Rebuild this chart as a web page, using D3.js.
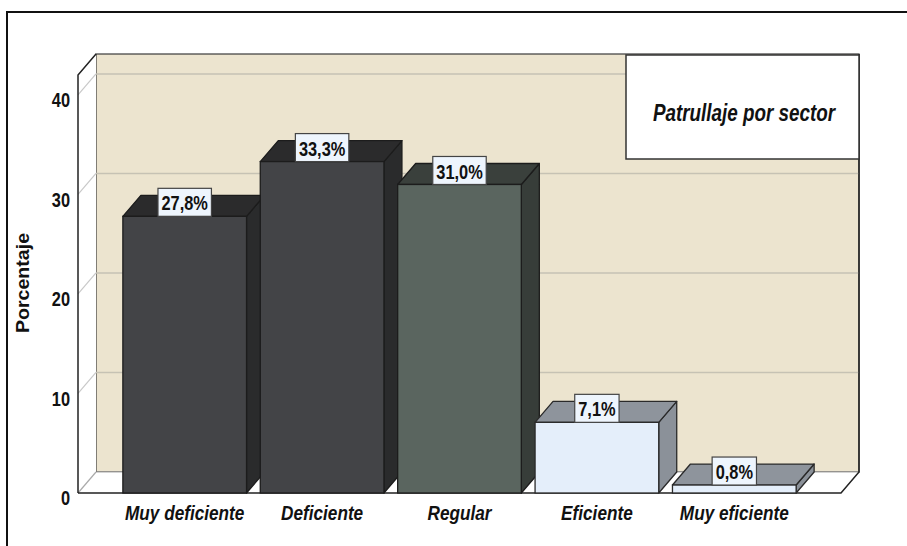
<!DOCTYPE html>
<html>
<head>
<meta charset="utf-8">
<script src="https://cdn.jsdelivr.net/npm/d3@7"></script>
<style>
  html, body { margin: 0; padding: 0; background: #fff; }
  svg { display: block; }
  text { font-family: Arial, "Liberation Sans", Helvetica, sans-serif; }
</style>
</head>
<body>
<svg id="chart" width="907" height="546"></svg>
<script>
// ---- data ----
const categories = ["Muy deficiente", "Deficiente", "Regular", "Eficiente", "Muy eficiente"];
const values = [27.8, 33.3, 31.0, 7.1, 0.8];
const valueLabels = ["27,8%", "33,3%", "31,0%", "7,1%", "0,8%"];
const yTicks = [0, 10, 20, 30, 40];
const yTitle = "Porcentaje";
const legendTitle = "Patrullaje por sector";

// ---- styles ----
const barStyles = [
  { front: "#434447", top: "#2b2b2c", side: "#2a2b2c", stroke: "#1c1c1c" },
  { front: "#434447", top: "#2b2b2c", side: "#2a2b2c", stroke: "#1c1c1c" },
  { front: "#5a655f", top: "#3a403c", side: "#373d39", stroke: "#1c1c1c" },
  { front: "#e4eefa", top: "#8e949c", side: "#8b9199", stroke: "#2a2a2a" },
  { front: "#e4eefa", top: "#8e949c", side: "#8b9199", stroke: "#2a2a2a" }
];
const SX = 0.82; // horizontal text compression

const svg = d3.select("#chart");
const DX = 18, DY = 21;          // depth offsets
const backLeft = 96, backRight = 859;

// back wall scale
const y = d3.scaleLinear().domain([0, 42]).range([472, 54]);
const yf = v => y(v) + DY;        // front plane
const x = d3.scaleBand().domain(categories).range([116, 803])
  .paddingInner(0.1).paddingOuter(0.05);

// outer frame
svg.append("path").attr("d", "M7,546 L7,12 L907,12")
  .attr("fill", "none").attr("stroke", "#111").attr("stroke-width", 2);

// back wall
svg.append("rect").attr("x", backLeft).attr("y", y(42))
  .attr("width", backRight - backLeft).attr("height", y(0) - y(42))
  .attr("fill", "#ece4cf").attr("stroke", "#3a3a3a").attr("stroke-width", 1.2);

// side wall
svg.append("path")
  .attr("d", `M${backLeft - DX},${yf(42)} L${backLeft},${y(42)} L${backLeft},${y(0)} L${backLeft - DX},${yf(0)} Z`)
  .attr("fill", "#fff").attr("stroke", "none");
// floor
svg.append("path")
  .attr("d", `M${backLeft - DX},${yf(0)} L${backLeft},${y(0)} L${backRight},${y(0)} L${backRight - DX},${yf(0)} Z`)
  .attr("fill", "#fff").attr("stroke", "none");

// gridlines
const gt = yTicks.filter(t => t > 0);
svg.append("g").selectAll("line.gb").data(gt).join("line")
  .attr("x1", backLeft).attr("x2", backRight)
  .attr("y1", d => y(d)).attr("y2", d => y(d))
  .attr("stroke", "#c6c2b4").attr("stroke-width", 1.5);
svg.append("g").selectAll("line.gs").data(gt).join("line")
  .attr("x1", backLeft - DX).attr("x2", backLeft)
  .attr("y1", d => yf(d)).attr("y2", d => y(d))
  .attr("stroke", "#c8c8c8").attr("stroke-width", 1.2);
// floor back edge & left diagonal
svg.append("line").attr("x1", backLeft).attr("x2", backRight)
  .attr("y1", y(0)).attr("y2", y(0)).attr("stroke", "#aaa").attr("stroke-width", 1.2);
svg.append("line").attr("x1", backLeft - DX).attr("x2", backLeft)
  .attr("y1", yf(0)).attr("y2", y(0)).attr("stroke", "#aaa").attr("stroke-width", 1.2);

// wall outlines (dark)
svg.append("path")
  .attr("d", `M${backLeft - DX},${yf(0)} L${backLeft - DX},${yf(42)} L${backLeft},${y(42)}`)
  .attr("fill", "none").attr("stroke", "#222").attr("stroke-width", 1.5);
svg.append("path")
  .attr("d", `M${backLeft - DX},${yf(0)} L${backRight - DX},${yf(0)} L${backRight},${y(0)} L${backRight},${y(42)}`)
  .attr("fill", "none").attr("stroke", "#222").attr("stroke-width", 1.5);

// y tick labels
svg.append("g").selectAll("text").data(yTicks).join("text")
  .attr("transform", d => `translate(70,${yf(d) + 5}) scale(${SX},1)`)
  .attr("text-anchor", "end").attr("dominant-baseline", "central")
  .attr("font-size", 20).attr("font-weight", "bold").attr("fill", "#111")
  .text(d => d);

// y title
svg.append("text")
  .attr("transform", `translate(29,283) rotate(-90) scale(0.98,0.95)`)
  .attr("text-anchor", "middle")
  .attr("font-size", 20).attr("font-weight", "bold").attr("fill", "#111")
  .text(yTitle);

// bars
const data = categories.map((c, i) => ({ c, v: values[i], lab: valueLabels[i], s: barStyles[i] }));
const gBars = svg.append("g");
data.forEach(d => {
  const x0 = x(d.c), x1 = x0 + x.bandwidth();
  const yt = yf(d.v), yb = yf(0);
  const g = gBars.append("g");
  g.append("path")
    .attr("d", `M${x1},${yt} L${x1 + DX},${yt - DY} L${x1 + DX},${yb - DY} L${x1},${yb} Z`)
    .attr("fill", d.s.side).attr("stroke", d.s.stroke).attr("stroke-width", 1.3).attr("stroke-linejoin", "round");
  g.append("path")
    .attr("d", `M${x0},${yt} L${x0 + DX},${yt - DY} L${x1 + DX},${yt - DY} L${x1},${yt} Z`)
    .attr("fill", d.s.top).attr("stroke", d.s.stroke).attr("stroke-width", 1.3).attr("stroke-linejoin", "round");
  g.append("rect").attr("x", x0).attr("y", yt).attr("width", x1 - x0).attr("height", yb - yt)
    .attr("fill", d.s.front).attr("stroke", d.s.stroke).attr("stroke-width", 1.3);
});

// value labels
const gLab = svg.append("g");
data.forEach(d => {
  const cx = x(d.c) + x.bandwidth() / 2;
  const yt = yf(d.v);
  const t = gLab.append("text")
    .attr("transform", `translate(${cx},${yt - 13}) scale(${SX},1)`)
    .attr("text-anchor", "middle").attr("dominant-baseline", "central")
    .attr("font-size", 20).attr("font-weight", "bold").attr("fill", "#111")
    .text(d.lab);
  const w = t.node().getComputedTextLength() * SX + 7;
  gLab.insert("rect", () => t.node())
    .attr("x", cx - w / 2).attr("y", yt - 28).attr("width", w).attr("height", 28)
    .attr("fill", "#eef5fd").attr("stroke", "#444").attr("stroke-width", 1.2);
});

// x labels
svg.append("g").selectAll("text").data(categories).join("text")
  .attr("transform", d => `translate(${x(d) + x.bandwidth() / 2},520) scale(0.86,1)`)
  .attr("text-anchor", "middle")
  .attr("font-size", 20).attr("font-weight", "bold").attr("font-style", "italic").attr("fill", "#111")
  .text(d => d);

// legend box
svg.append("rect").attr("x", 626).attr("y", 55).attr("width", 233).attr("height", 104)
  .attr("fill", "#fff").attr("stroke", "#333").attr("stroke-width", 1.5);
svg.append("text")
  .attr("transform", `translate(744,113) scale(${SX},1)`)
  .attr("text-anchor", "middle").attr("dominant-baseline", "central")
  .attr("font-size", 23).attr("font-weight", "bold").attr("font-style", "italic").attr("fill", "#111")
  .text(legendTitle);
</script>
</body>
</html>
